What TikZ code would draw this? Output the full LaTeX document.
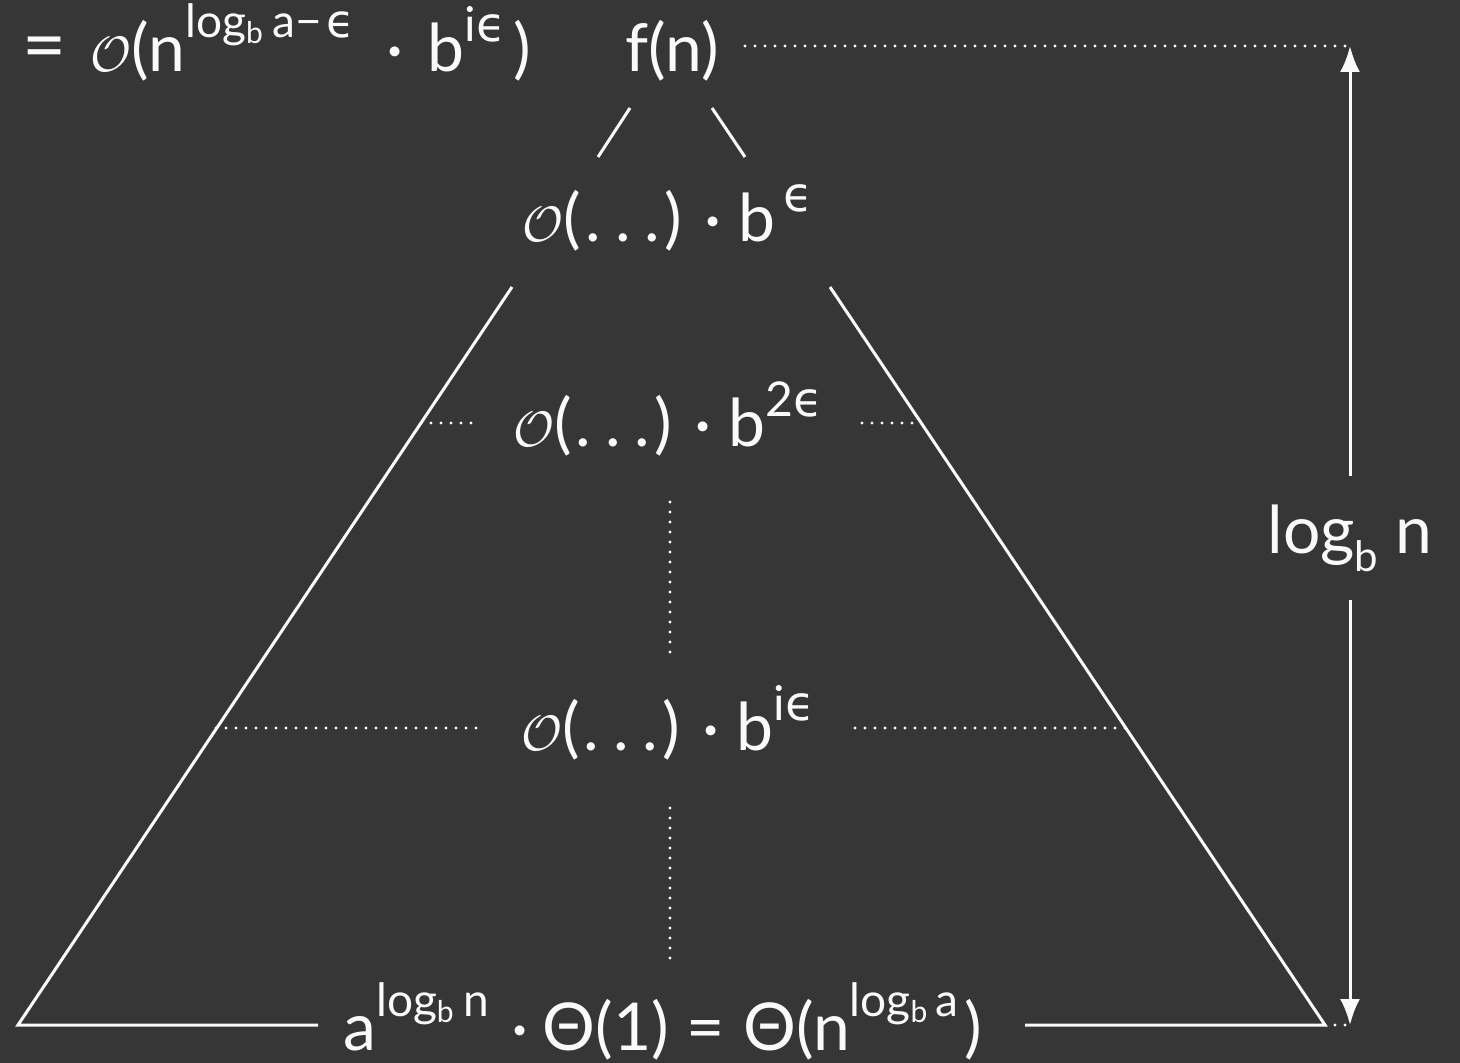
\documentclass[tikz,border=0pt]{standalone}
\usepackage{fontspec}
\setmainfont{Lato}
\newfontfamily\dv{DejaVu Sans}
\usetikzlibrary{arrows.meta}
\definecolor{board}{RGB}{54,54,54}
\definecolor{chalk}{RGB}{250,250,250}
\newcommand{\hi}[1]{\raisebox{15pt}{\fontsize{24}{24}\selectfont #1}}
\newcommand{\hilog}[1]{\raisebox{17pt}{\fontsize{23}{23}\selectfont #1}}
\newcommand{\lo}[1]{\raisebox{-3pt}{\fontsize{15}{15}\selectfont #1}}
\newcommand{\lob}[1]{\raisebox{-9pt}{\fontsize{21}{21}\selectfont #1}}
\newcommand{\eps}{{\dv ϵ}}
\newcommand{\bigO}{{\fontsize{50}{50}\selectfont$\mathcal{O}$}}
\newcommand{\dts}{\kern2pt.\kern7pt.\kern7pt.\kern2pt}
\newcommand{\gap}[1]{\hspace*{#1}}
\tikzset{
  txt/.style={text=chalk, inner sep=0pt, anchor=base, font=\fontsize{33}{40}\selectfont},
  chalkline/.style={draw=chalk, line width=1.5pt},
  dotline/.style={draw=chalk, line width=1.6pt, line cap=round, dash pattern=on 0pt off 5pt},
  arr/.style={draw=chalk, line width=1.5pt, -{Latex[length=13pt,width=10pt]}},
}
\begin{document}
\begin{tikzpicture}[x=0.5pt,y=-0.5pt]
\fill[board] (0,0) rectangle (1460,1063);
\useasboundingbox (0,0) rectangle (1460,1063);
% texts
\node[txt, anchor=base west] (top) at (22,72) {{\fontsize{38}{40}\selectfont =}\gap{12pt}\bigO(n\hilog{log\lo{b}\gap{5pt}a−\gap{2pt}\eps}\gap{16pt}·\gap{12pt}b\hi{i\eps}\gap{4pt})};
\node[txt] (fn) at (672,72) {f(n)};
\node[txt] (m1) at (668,242) {\bigO(\dts) · b\hi{\,\eps}};
\node[txt] (m2) at (668,447) {\bigO(\dts) · b\hi{2\eps}};
\node[txt] (m3) at (668,750) {\bigO(\dts) · b\hi{i\eps}};
\node[txt, anchor=base west] (bot) at (343,1050) {a\hilog{log\lo{b}\gap{5pt}n}\gap{11pt}·\gap{7pt}Θ(1)\gap{9pt}=\gap{9pt}Θ(n\hilog{log\lo{b}\gap{4pt}a}\gap{3pt})};
\node[txt, inner ysep=14pt] (lg) at (1350,553) {log\lob{b} n};
% coordinates
\coordinate (atop) at (1350,46);
\coordinate (abot) at (1350,1025);
\coordinate (L1) at (512,287);
\coordinate (R1) at (830,287);
\coordinate (BL) at (18,1025);
\coordinate (BR) at (1325,1025);
\coordinate (BLe) at (318,1025);
\coordinate (BRs) at (1025,1025);
\coordinate (fa1) at (630,108);
\coordinate (fa2) at (598,157);
\coordinate (fb1) at (712,108);
\coordinate (fb2) at (745,157);
% top dotted line and arrow
\draw[dotline] (745,46) -- (atop);
\draw[arr] (lg.north) -- (atop);
\draw[arr] (lg.south) -- (abot);
\draw[dotline] (BR) -- (abot);
% branches under f(n)
\draw[chalkline] (fa1) -- (fa2);
\draw[chalkline] (fb1) -- (fb2);
% triangle
\draw[chalkline] (L1) -- (BL) -- (BLe);
\draw[chalkline] (R1) -- (BR) -- (BRs);
% level dotted lines
\draw[dotline] (421,423) -- (478,423);
\draw[dotline] (862,423) -- (921,423);
\draw[dotline] (216,728) -- (485,728);
\draw[dotline] (855,728) -- (1126,728);
\draw[dotline] (670,502) -- (670,655);
\draw[dotline] (670,808) -- (670,960);
\end{tikzpicture}
\end{document}
